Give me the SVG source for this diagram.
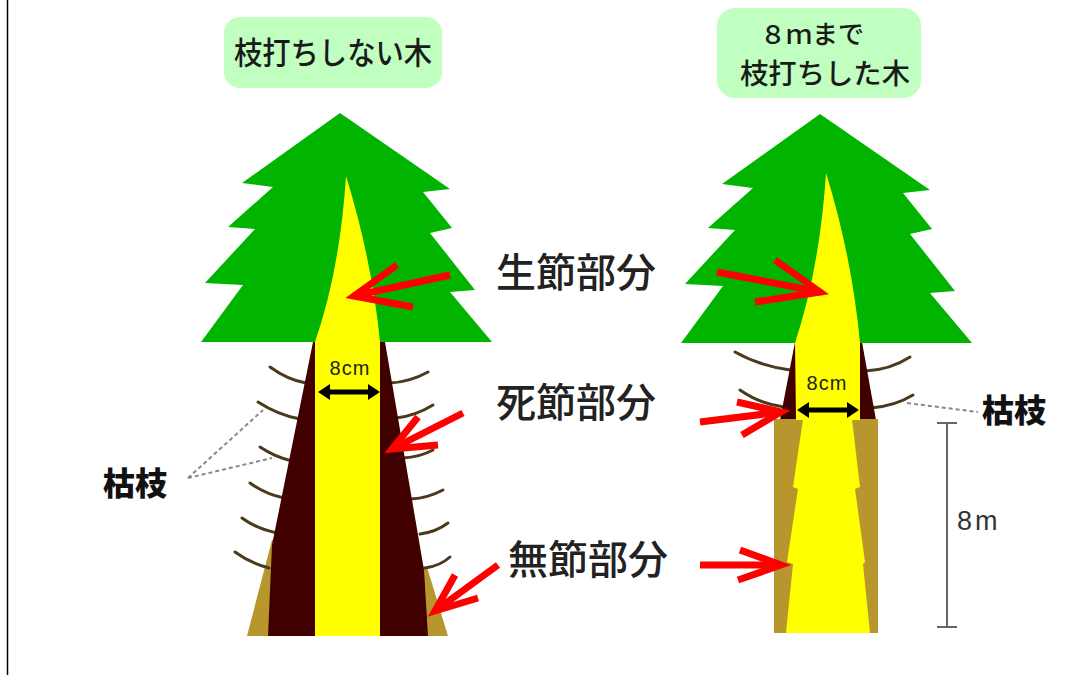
<svg xmlns="http://www.w3.org/2000/svg" width="1076" height="675" viewBox="0 0 1076 675">
  <style>
    .crown { fill: #00B400; }
    .core { fill: #FFFF00; }
    .dead { fill: #400000; }
    .knotfree { fill: #B8962E; }
    .branch { fill: none; stroke: #4B3A1E; stroke-width: 3; stroke-linecap: round; }
    .arrow { fill: none; stroke: #FF0000; stroke-width: 7; stroke-linejoin: miter; stroke-miterlimit: 10; }
    .lead { fill: none; stroke: #888; stroke-width: 2; stroke-dasharray: 4 3; }
    .title { fill: #C0FFC0; }
    .jp { font-family: "Noto Sans CJK JP", "Noto Sans", sans-serif; fill: #1a1a1a; font-weight: 500; }
    .lbl { font-family: "Noto Sans CJK JP", sans-serif; font-size: 40px; font-weight: 500; fill: #222; }
    .bold { font-family: "Noto Sans CJK JP", sans-serif; font-size: 32px; font-weight: 900; fill: #111; }
    .cm { font-family: "Liberation Sans", Arial, sans-serif; font-size: 20px; fill: #222; letter-spacing: 1px; }
  </style>
  <defs>
    <!-- three-tiered cedar crown -->
    <path id="crownShape" d="M340,113 L450,189 L423,192 L452,228 L430,233 L475,290 L450,292 L492,342 L201,342 L243,285 L205,283 L255,229 L228,227 L273,187 L242,183 Z"/>
    <!-- 8cm double-headed arrow -->
    <polygon id="dbl" points="318,392 330,384 330,389.5 368,389.5 368,384 380,392 368,400 368,394.5 330,394.5 330,400"/>
  </defs>

  <!-- page edge -->
  <line x1="7.5" y1="0" x2="7.5" y2="675" stroke="#000" stroke-width="1.5"/>

  <!-- Tree without pruning -->
  <g id="tree-unpruned">
    <polygon class="knotfree" points="272,540 247,636 448,636 427,567"/>
    <!-- dead branch stubs -->
    <path class="branch" d="M270,367 Q288,380 306,383"/>
    <path class="branch" d="M258,402 Q278,415 300,419"/>
    <path class="branch" d="M260,447 Q275,457 292,461"/>
    <path class="branch" d="M250,483 Q265,494 284,498"/>
    <path class="branch" d="M242,518 Q257,529 277,533"/>
    <path class="branch" d="M235,552 Q250,563 269,568"/>
    <path class="branch" d="M390,383 Q410,382 428,372"/>
    <path class="branch" d="M396,418 Q415,416 433,405"/>
    <path class="branch" d="M403,458 Q420,457 433,450"/>
    <path class="branch" d="M411,499 Q428,498 443,490"/>
    <path class="branch" d="M420,534 Q436,532 448,523"/>
    <path class="branch" d="M425,568 Q440,566 450,557"/>
    <polygon class="dead" points="313,342 272,545 268,636 428,636 424,570 385,342"/>
    <use href="#crownShape" class="crown"/>
    <path class="core" d="M346,176 Q340,270 315,342 L315,636 L380,636 L380,342 Q372,260 346,176 Z"/>
    <use href="#dbl" fill="#000"/>
    <text class="cm" x="350" y="375" text-anchor="middle">8cm</text>
  </g>

  <!-- Tree pruned up to 8 m -->
  <g id="tree-pruned">
    <path class="branch" d="M735,352 Q760,366 790,370"/>
    <path class="branch" d="M740,390 Q760,404 784,407"/>
    <path class="branch" d="M865,371 Q890,370 910,357"/>
    <path class="branch" d="M871,408 Q895,406 913,395"/>
    <polygon class="dead" points="795,342 780,420 876,420 862,342"/>
    <rect class="knotfree" x="774" y="419" width="104" height="214"/>
    <polygon class="core" points="803,419 852,419 860,487 855,489 865,562 863,564 870,633 786,633 793,564 787,562 798,489 793,487"/>
    <use href="#crownShape" class="crown" transform="translate(480,1)"/>
    <path class="core" d="M826,173 Q820,267 795,343 L796,420 L860,420 L860,343 Q852,257 826,173 Z"/>
    <use href="#dbl" fill="#000" transform="translate(479,18)"/>
    <text class="cm" x="827" y="390" text-anchor="middle">8cm</text>
  </g>

  <!-- 8 m height dimension -->
  <g id="dim-8m" stroke="#666" stroke-width="2">
    <line x1="947" y1="423" x2="947" y2="627"/>
    <line x1="937" y1="423" x2="957" y2="423"/>
    <line x1="937" y1="627" x2="957" y2="627"/>
  </g>
  <text x="957" y="530" font-family="Liberation Sans, Arial, sans-serif" font-size="27" fill="#333" letter-spacing="3">8m</text>

  <!-- Headings -->
  <g id="title-unpruned">
    <rect class="title" x="224" y="17" width="218" height="71" rx="16"/>
    <text class="jp" x="333" y="64" font-size="31" text-anchor="middle" textLength="198" lengthAdjust="spacingAndGlyphs">枝打ちしない木</text>
  </g>
  <g id="title-pruned">
    <rect class="title" x="717" y="8" width="204" height="90" rx="18"/>
    <text class="jp" x="812" y="44" font-size="26" text-anchor="middle" textLength="104" lengthAdjust="spacingAndGlyphs">８ｍまで</text>
    <text class="jp" x="825" y="84" font-size="28" text-anchor="middle" textLength="170" lengthAdjust="spacingAndGlyphs">枝打ちした木</text>
  </g>

  <!-- Part labels -->
  <g id="label-live"><text class="lbl" x="496" y="287">生節部分</text></g>
  <g id="label-dead"><text class="lbl" x="496" y="417">死節部分</text></g>
  <g id="label-clear"><text class="lbl" x="508" y="574" font-size="39">無節部分</text></g>
  <g id="label-deadbranch-left"><text class="bold" x="103" y="495">枯枝</text></g>
  <g id="label-deadbranch-right"><text class="bold" x="982" y="422">枯枝</text></g>

  <!-- Connectors -->
  <g id="connectors">
    <path class="lead" d="M188,478 L263,410 M188,478 L272,458"/>
    <path class="lead" d="M907,403 L978,412"/>

    <!-- left tree arrows -->
    <path class="arrow" d="M450,275 L354,296"/>
    <path class="arrow" d="M397,265 L354,296 L413,307"/>
    <path class="arrow" d="M463,413 L392,449"/>
    <path class="arrow" d="M418,417 L392,449 L438,445"/>
    <path class="arrow" d="M498,565 L435,611"/>
    <path class="arrow" d="M455,575 L435,611 L478,598"/>

    <!-- right tree arrows -->
    <path class="arrow" d="M717,272 L820,292"/>
    <path class="arrow" d="M775,260 L820,292 L755,302"/>
    <path class="arrow" d="M700,422 L781,412"/>
    <path class="arrow" d="M737,402 L781,412 L742,435"/>
    <path class="arrow" d="M700,565 L781,565"/>
    <path class="arrow" d="M740,550 L781,565 L738,580"/>
  </g>
</svg>
